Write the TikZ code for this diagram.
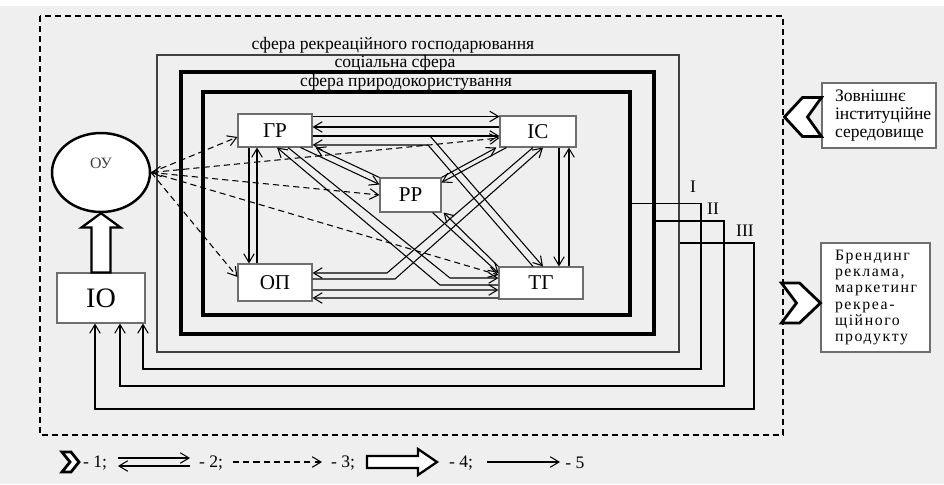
\documentclass[tikz,border=0pt]{standalone}
\usepackage{fontspec}
\setmainfont{Liberation Serif}
\usetikzlibrary{calc,arrows.meta,shapes.geometric}
\definecolor{bggrey}{RGB}{239,239,239}
\definecolor{boxline}{RGB}{110,110,110}

\begin{document}
\begin{tikzpicture}[x=0.02cm,y=-0.02cm,
    unit/.style={draw=boxline,fill=white,line width=0.6pt,inner sep=0pt,font=\fontsize{12}{14}\selectfont},
    link/.style={line width=0.6pt,-{Straight Barb[length=5pt,width=6pt]}},
    ctrl/.style={link,dash pattern=on 3.5pt off 2.3pt},
    chev/.style={draw,fill=white,line width=1.6pt,line join=miter},
    fatarrow/.style={draw,fill=white,line width=1.3pt,line join=miter},
    sidebox/.style={draw=boxline,fill=white,line width=0.6pt,align=left,inner ysep=0pt},
    label/.style={font=\fontsize{10}{12}\selectfont,inner sep=0pt}]
    \useasboundingbox (0,0) rectangle (944,484);
    \fill[white] (0,0) rectangle (944,6);
    \fill[bggrey] (0,6) rectangle (944,484);

    % outer environment border
    \draw[line width=0.85pt,dash pattern=on 3.4pt off 2.3pt] (40,16) rectangle (783,435);

    % spheres
    \node[draw=black!75,line width=0.7pt,minimum width=10.44cm,minimum height=5.94cm,inner sep=0pt] (rec) at (418,203.5) {};
    \node[draw,line width=2.2pt,minimum width=9.46cm,minimum height=5.24cm,inner sep=0pt] (soc) at (417.5,203) {};
    \node[draw,line width=2.2pt,minimum width=8.54cm,minimum height=4.46cm,inner sep=0pt] (nat) at (416.5,203.5) {};
    \node[label] at (393,45) {сфера рекреаційного господарювання};
    \node[label] at (395,63) {соціальна сфера};
    \node[label] at (406,82) {сфера природокористування};

    % subjects
    \node[unit,minimum width=1.48cm,minimum height=0.66cm] (gr) at (275,130.5) {ГР};
    \node[unit,minimum width=1.52cm,minimum height=0.62cm] (is) at (538,131.5) {ІС};
    \node[unit,minimum width=1.22cm,minimum height=0.68cm] (rr) at (410.5,195) {РР};
    \node[unit,minimum width=1.48cm,minimum height=0.74cm] (op) at (275,282.5) {ОП};
    \node[unit,minimum width=1.68cm,minimum height=0.64cm] (tg) at (541,283) {ТГ};

    % management
    \node[ellipse,draw,line width=1.4pt,fill=white,minimum width=1.96cm,minimum height=1.58cm,inner sep=0pt] (ou) at (101,172.5) {};
    \node[font=\fontsize{9}{10}\selectfont,text=black!75] (oulbl) at (101,163) {ОУ};
    \node[unit,minimum width=1.76cm,minimum height=1cm,font=\fontsize{16}{18}\selectfont] (io) at (101,298) {ІО};
    \draw[fatarrow] ($(io.north)+(-9.5,0)$) -- ($(io.north)+(-9.5,-45)$) -- ($(io.north)+(-19.5,-45)$)
        -- (ou.south) -- ($(io.north)+(19.5,-45)$) -- ($(io.north)+(9.5,-45)$) -- ($(io.north)+(9.5,0)$) -- cycle;

    % control links
    \draw[ctrl] (ou.east) -- ($(gr.west)+(0,6.5)$);
    \draw[ctrl,{Straight Barb[length=5pt,width=6pt]}-{Straight Barb[length=5pt,width=6pt]}] (ou.east) -- ($(is.west)+(0,6.5)$);
    \draw[ctrl] (ou.east) -- (rr.west);
    \draw[ctrl] (ou.east) -- ($(tg.west)+(0,-8)$);
    \draw[ctrl] (ou.east) -- ($(op.west)+(0,-5.5)$);

    % links between subjects
    \coordinate (bA) at (430,136);
    \coordinate (bB) at (428,145);
    \coordinate (dA) at (450,278);
    \coordinate (dB) at (440,285);
    \coordinate (eA) at (387,273);
    \coordinate (eB) at (395,279);
    \draw[link] ($(gr.north east)+(0,3)$) -- ($(is.north west)+(0,1)$);
    \draw[link] ($(is.west)+(0,-4.5)$) -- ($(gr.east)+(0,-3.5)$);
    \draw[link] ($(gr.east)+(0,5.5)$) -- ($(is.west)+(0,4.5)$);
    \draw[link] ($(gr.east)+(0,5.5)$) -- (bA) -- ($(tg.north)+(2,0)$);
    \draw[link] ($(tg.north)+(-8,0)$) -- (bB) -- ($(gr.east)+(0,14.5)$);
    \draw[link] ($(gr.south east)+(-12,0)$) -- ($(rr.north west)+(0,7)$);
    \draw[link] (rr.north west) -- ($(gr.south east)+(3,0)$);
    \draw[link] ($(gr.south)+(13,0)$) -- (dA) -- ($(tg.west)+(0,-5)$);
    \draw[link] ($(tg.west)+(0,2)$) -- (dB) -- ($(gr.south)+(2,0)$);
    \draw[link] ($(is.south)+(-5,0)$) -- (eA) -- ($(op.east)+(0,-9.5)$);
    \draw[link] ($(op.east)+(0,-3.5)$) -- (eB) -- ($(is.south)+(5,0)$);
    \draw[link] ($(is.south west)+(7,0)$) -- ($(rr.north east)+(0,5)$);
    \draw[link] (rr.north east) -- ($(is.south west)+(-3,0)$);
    \draw[link] ($(rr.south east)+(-9,0)$) -- ($(tg.west)+(0,-10)$);
    \draw[link] (tg.north west) -- ($(rr.south east)+(2,0)$);
    \draw[link] ($(is.south)+(21,0)$) -- ($(tg.north)+(18,0)$);
    \draw[link] ($(tg.north)+(28,0)$) -- ($(is.south)+(31,0)$);
    \draw[link] ($(gr.south)+(-26,0)$) -- ($(op.north)+(-26,0)$);
    \draw[link] ($(op.north)+(-18,0)$) -- ($(gr.south)+(-18,0)$);
    \draw[link] ($(op.east)+(0,7.5)$) -- ($(tg.west)+(0,7)$);
    \draw[link] ($(tg.west)+(0,15)$) -- ($(op.east)+(0,15.5)$);

    % feedback to IO
    \coordinate (ret1) at (701,369);
    \coordinate (ret2) at (724,386);
    \coordinate (ret3) at (754,409);
    \draw[link] (nat.east) -| (ret1) -| ($(io.south)+(42,0)$);
    \draw[link] ($(soc.east)+(0,18)$) -| (ret2) -| ($(io.south)+(19,0)$);
    \draw[link] ($(rec.east)+(0,39.5)$) -| (ret3) -| ($(io.south)+(-6,0)$);
    \node[label] at (693,187) {I};
    \node[label] at (713,209) {II};
    \node[label] at (745,231) {III};

    % outside
    \node[sidebox,font=\fontsize{10}{10.5}\selectfont,minimum width=2.28cm,minimum height=1.3cm,inner xsep=0.26cm,text width=1.76cm] (ext) at (879,115.5) {Зовнішнє\\інституційне\\середовище};
    \node[sidebox,font=\fontsize{9}{9.3}\selectfont\addfontfeature{LetterSpace=10},minimum width=2.18cm,minimum height=2.18cm,inner xsep=0.28cm,text width=1.62cm] (brand) at (875.5,297.5) {Брендинг\\реклама,\\маркетинг\\рекреа-\\щійного\\продукту};
    \draw[chev] ($(ext.west)+(0,-18)$) -- ++(-19,0) -- ++(-18,19.5) -- ++(18,19.5) -- ++(19,0) -- ++(-14,-19.5) -- cycle;
    \draw[chev] (brand.west) ++(0,5.5) -- ++(-21,-20) -- ++(-18,0) -- ++(15,20) -- ++(-15,20) -- ++(18,0) -- cycle;

    % legend
    \draw[chev] (62,452) -- (71,452) -- (79,462) -- (71,472) -- (62,472) -- (70,462) -- cycle;
    \node[label] at (95,463) {- 1;};
    \draw[link] (118,458) -- (190,458);
    \draw[link] (190,466) -- (118,466);
    \node[label] at (211,463) {- 2;};
    \draw[ctrl] (233,462) -- (322,462);
    \node[label] at (343,463) {- 3;};
    \draw[fatarrow] (367,456) -- (418,456) -- (418,449) -- (437,462) -- (418,475) -- (418,468) -- (367,468) -- cycle;
    \node[label] at (461,463) {- 4;};
    \draw[link] (487,462) -- (560,462);
    \node[label] at (575,463) {- 5};
\end{tikzpicture}
\end{document}
